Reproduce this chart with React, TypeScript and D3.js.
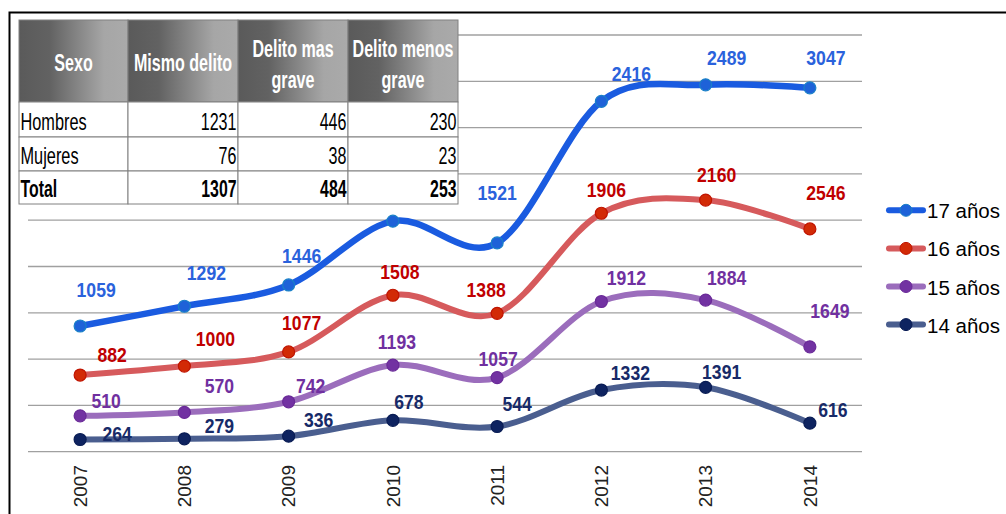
import React from "react";
import * as d3 from "d3";

const years = ["2007", "2008", "2009", "2010", "2011", "2012", "2013", "2014"];
const seriesNames = ["14 años", "15 años", "16 años", "17 años"];
const v14 = [264, 279, 336, 678, 544, 1332, 1391, 616];
const v15 = [510, 570, 742, 1193, 1057, 1912, 1884, 1649];
const v16 = [882, 1000, 1077, 1508, 1388, 1906, 2160, 2546];
const v17 = [1059, 1292, 1446, 1600, 1521, 2416, 2489, 3047];
const yTicks = [0, 1000, 2000, 3000, 4000, 5000, 6000, 7000, 8000, 9000];

const tableHeaders = [["Sexo"], ["Mismo delito"], ["Delito mas", "grave"], ["Delito menos", "grave"]];
const tableRowNames = ["Hombres", "Mujeres", "Total"];
const colMismo = [1231, 76, 1307];
const colMas = [446, 38, 484];
const colMenos = [230, 23, 253];

// label nudges (styling) per series, per point: [dx, dy]
const nudge14 = [[37, 2], [35, -6], [30, -9], [16, -11], [20, -16], [29, -10], [16, -8], [23, -6]];
const nudge15 = [[26, -8], [35, -19], [22, -9], [4, -16], [1, -12], [25, -17], [21, -15], [20, -29]];
const nudge16 = [[32, -13], [31, -20], [13, -22], [7, -16], [-11, -16], [5, -16], [11, -18], [16, -29]];
const nudge17 = [[16, -29], [22, -26], [13, -22], [5, -25], [0, -43], [30, -20], [21, -20], [16, -23]];

const ARIAL = "'Liberation Sans', Arial, sans-serif";

function NText(props: any) {
  const { x, y, sx = 0.82, children, ...rest } = props;
  return (
    <text transform={`translate(${x},${y}) scale(${sx},1)`} fontFamily={ARIAL} {...rest}>
      {children}
    </text>
  );
}

export default function App() {
  const W = 1006, H = 514;
  const x = d3.scalePoint<string>().domain(years).range([28, 862]).padding(0.5);
  const y = d3.scaleLinear().domain([0, 9000]).range([451.7, 35]);

  const rows = years.map((yr, i) => ({
    year: yr,
    "14 años": v14[i],
    "15 años": v15[i],
    "16 años": v16[i],
    "17 años": v17[i],
  }));
  const stacked = d3.stack<any>().keys(seriesNames)(rows);

  const styles: Record<string, any> = {
    "17 años": { line: "#1a5be0", fill: "#1e62d8", stroke: "#1a80c8", label: "#2a62dc", width: 6.5, values: v17, nudge: nudge17 },
    "16 años": { line: "#d65a5c", fill: "#d22a06", stroke: "#c01400", label: "#c00000", width: 6, values: v16, nudge: nudge16 },
    "15 años": { line: "#9b6dbc", fill: "#7232a2", stroke: "#6a2a98", label: "#7030a0", width: 6, values: v15, nudge: nudge15 },
    "14 años": { line: "#4a5e8f", fill: "#0e2360", stroke: "#0a1d55", label: "#172a68", width: 6, values: v14, nudge: nudge14 },
  };

  const line = d3
    .line<[number, number]>()
    .x((d) => d[0])
    .y((d) => d[1])
    .curve(d3.curveCatmullRom.alpha(0));

  const colX = [19, 128, 238, 348, 458];
  const rowY = [20, 102, 137, 171, 204];
  const rowBase = [129.5, 163.5, 197];
  const tableCols = [colMismo, colMas, colMenos];

  const legendOrder = ["17 años", "16 años", "15 años", "14 años"];

  return (
    <svg width={W} height={H} style={{ position: "absolute", left: 0, top: 0, background: "#fff" }}>
      <defs>
        <linearGradient id="hdr" x1="0" x2="1" y1="0" y2="0">
          <stop offset="0" stopColor="#5a5a5a" />
          <stop offset="0.28" stopColor="#626262" />
          <stop offset="0.78" stopColor="#a6a6a6" />
          <stop offset="1" stopColor="#aaaaaa" />
        </linearGradient>
      </defs>
      <rect x={0} y={0} width={W} height={H} fill="#fff" />
      {yTicks.map((t) => (
        <line key={t} x1={28} x2={862} y1={y(t)} y2={y(t)} stroke="#a0a0a0" strokeWidth={1.3} />
      ))}
      {years.map((yr) => (
        <text
          key={yr}
          transform={`translate(${x(yr)},465) rotate(-90)`}
          dy="0.36em"
          textAnchor="end"
          fontFamily={ARIAL}
          fontSize={19}
          fill="#222"
        >
          {yr}
        </text>
      ))}
      {stacked.map((s) => {
        const st = styles[s.key];
        const pts: [number, number][] = s.map((d, i) => [x(years[i]) as number, y(d[1])]);
        return (
          <path key={s.key} d={line(pts) || ""} fill="none" stroke={st.line} strokeWidth={st.width} strokeLinecap="round" />
        );
      })}
      {stacked.map((s) => {
        const st = styles[s.key];
        return (
          <g key={s.key + "m"}>
            {s.map((d, i) => (
              <circle key={i} cx={x(years[i])} cy={y(d[1])} r={6} fill={st.fill} stroke={st.stroke} strokeWidth={1.2} />
            ))}
          </g>
        );
      })}
      {stacked.map((s) => {
        const st = styles[s.key];
        return (
          <g key={s.key + "l"}>
            {s.map((d, i) => (
              <NText
                key={i}
                x={(x(years[i]) as number) + st.nudge[i][0]}
                y={y(d[1]) + st.nudge[i][1]}
                sx={0.88}
                textAnchor="middle"
                fontWeight="bold"
                fontSize={20}
                fill={st.label}
              >
                {st.values[i]}
              </NText>
            ))}
          </g>
        );
      })}
      <g>
        {tableHeaders.map((h, c) => (
          <g key={"h" + c}>
            <rect x={colX[c]} y={rowY[0]} width={colX[c + 1] - colX[c]} height={rowY[1] - rowY[0]} fill="url(#hdr)" stroke="#808080" strokeWidth={1} />
            {h.map((ln, k) => (
              <NText
                key={k}
                x={(colX[c] + colX[c + 1]) / 2}
                y={h.length === 1 ? 71 : k === 0 ? 56.5 : 87.5}
                sx={0.67}
                textAnchor="middle"
                fontWeight="bold"
                fontSize={24}
                fill="#fff"
              >
                {ln}
              </NText>
            ))}
          </g>
        ))}
        {tableRowNames.map((rn, r) => (
          <g key={"r" + r}>
            {[0, 1, 2, 3].map((c) => (
              <rect key={c} x={colX[c]} y={rowY[r + 1]} width={colX[c + 1] - colX[c]} height={rowY[r + 2] - rowY[r + 1]} fill="#fff" stroke="#808080" strokeWidth={1} />
            ))}
            <NText
              x={colX[0] + 1.5}
              y={rowBase[r]}
              sx={r === 2 ? 0.66 : 0.71}
              fontSize={r === 2 ? 24 : 23}
              fontWeight={r === 2 ? "bold" : "normal"}
              fill="#000"
            >
              {rn}
            </NText>
            {tableCols.map((col, c) => (
              <NText
                key={c}
                x={colX[c + 2] - 1.5}
                y={rowBase[r]}
                sx={r === 2 ? 0.66 : 0.7}
                textAnchor="end"
                fontSize={r === 2 ? 24 : 23}
                fontWeight={r === 2 ? "bold" : "normal"}
                fill="#000"
              >
                {col[r]}
              </NText>
            ))}
          </g>
        ))}
      </g>
      {legendOrder.map((k, i) => {
        const st = styles[k];
        const by = 218.3 + i * 38.1;
        return (
          <g key={k}>
            <line x1={889} x2={923} y1={by - 8} y2={by - 8} stroke={st.line} strokeWidth={6} strokeLinecap="round" />
            <circle cx={906} cy={by - 8} r={6} fill={st.fill} stroke={st.stroke} strokeWidth={1} />
            <text x={927} y={by} fontFamily={ARIAL} fontSize={20.5} fill="#000">
              {k}
            </text>
          </g>
        );
      })}
      <path d="M9.5,514 V12.5 H1006" fill="none" stroke="#000" strokeWidth={2} />
    </svg>
  );
}
